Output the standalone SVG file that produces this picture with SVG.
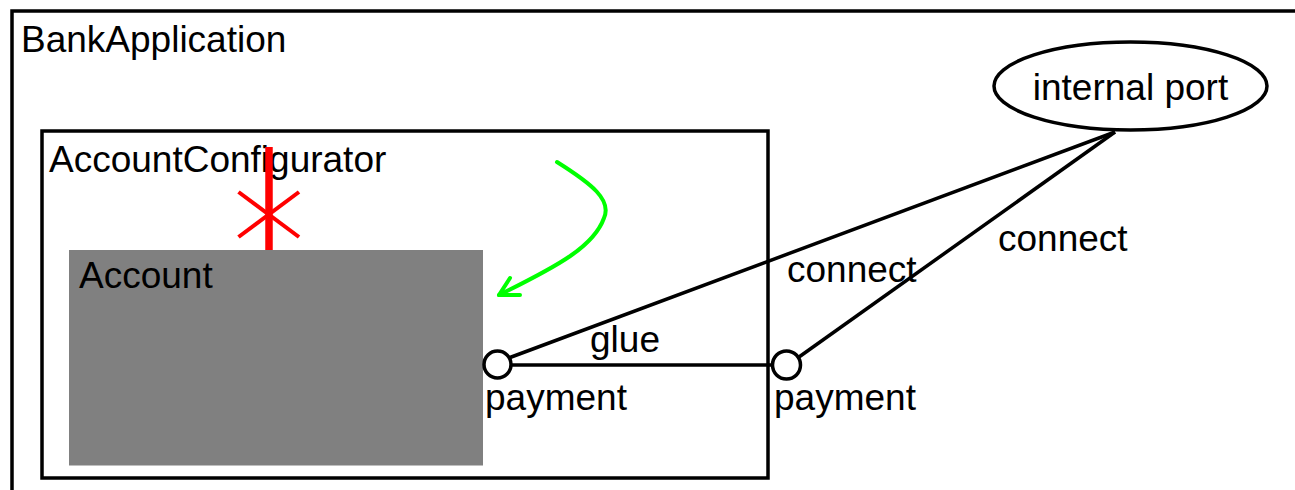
<svg xmlns="http://www.w3.org/2000/svg" width="1295" height="490" viewBox="0 0 1295 490">
  <style>
    text { font-family: "Liberation Sans", Arial, sans-serif; font-size: 37px; fill: #000; }
    .frame { fill: none; stroke: #000; stroke-width: 3.5; }
    .conn { fill: none; stroke: #000; stroke-width: 3.5; }
    .port { fill: #fff; stroke: #000; stroke-width: 3.5; }
    .red { stroke: #ff0000; fill: none; }
    .green { stroke: #00ff00; fill: none; stroke-width: 4; stroke-linecap: round; stroke-linejoin: round; }
  </style>
  <rect x="0" y="0" width="1295" height="490" fill="#fff"/>
  <g id="BankApplication">
    <rect class="frame" x="12" y="11" width="1300" height="500"/>
    <text x="21" y="52">BankApplication</text>
  </g>
  <g id="AccountConfigurator">
    <rect class="frame" x="42" y="131" width="726" height="347"/>
    <text x="49" y="172">AccountConfigurator</text>
  </g>
  <g id="Account">
    <rect x="69" y="250" width="414" height="215.5" fill="#808080"/>
    <text x="79" y="288">Account</text>
  </g>
  <g id="internalPort">
    <ellipse class="port" cx="1130.5" cy="86" rx="136.5" ry="44"/>
    <text x="1130.5" y="100" text-anchor="middle">internal port</text>
  </g>
  <g id="connectors">
    <line class="conn" x1="510" y1="365" x2="772" y2="365"/>
    <line class="conn" x1="510" y1="357.5" x2="1115" y2="132"/>
    <line class="conn" x1="799" y1="357" x2="1115" y2="132"/>
    <text x="590" y="352">glue</text>
    <text x="787" y="282">connect</text>
    <text x="998" y="251">connect</text>
  </g>
  <g id="portInner">
    <circle class="port" cx="497.5" cy="364.5" r="13.5"/>
    <text x="485" y="410">payment</text>
  </g>
  <g id="portOuter">
    <circle class="port" cx="786.5" cy="365" r="14"/>
    <text x="774" y="410">payment</text>
  </g>
  <g id="forbidden">
    <line class="red" x1="269" y1="147" x2="269" y2="250" stroke-width="7.5"/>
    <line class="red" x1="238.5" y1="192" x2="299" y2="237" stroke-width="4"/>
    <line class="red" x1="238.5" y1="237" x2="299" y2="192" stroke-width="4"/>
  </g>
  <g id="delegation">
    <path class="green" d="M557,162 C592,184 612,200 604,218 C594,246 560,265 499,295"/>
    <path class="green" d="M510,278 L499,295 L520,295"/>
  </g>
</svg>
